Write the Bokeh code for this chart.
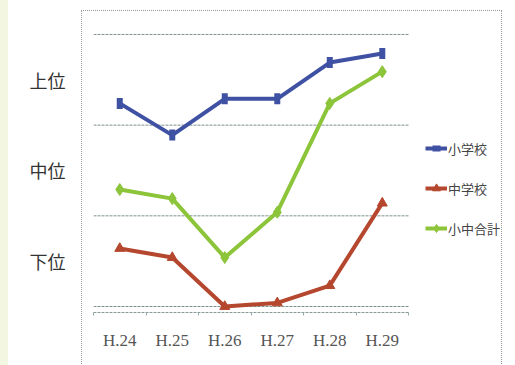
import math
from bokeh.plotting import figure
from bokeh.models import (Range1d, FixedTicker, Legend, LegendItem, InlineStyleSheet)
from bokeh.embed import file_html
from bokeh.resources import INLINE

# ---- data (rank scale: 0 = bottom gridline, 3 = top gridline) ----
years = ["H.24", "H.25", "H.26", "H.27", "H.28", "H.29"]
elementary = [2.24, 1.89, 2.29, 2.29, 2.69, 2.79]   # 小学校
junior = [0.64, 0.54, 0.00, 0.04, 0.23, 1.14]       # 中学校
combined = [1.29, 1.19, 0.54, 1.04, 2.24, 2.59]     # 小中合計
series_names = ["小学校", "中学校", "小中合計"]
rank_labels = ["下位", "中位", "上位"]
rank_positions = [0.5, 1.5, 2.5]
grid_levels = [0, 1, 2, 3]

xs = list(range(len(years)))
x_lo = xs[0] - 0.5
x_hi = xs[-1] + 0.5

p = figure(width=515, height=365, output_backend="svg", toolbar_location=None,
           x_range=Range1d(x_lo, 7.48), y_range=Range1d(-0.066, 3.154),
           min_border_left=93, min_border_right=3, min_border_top=20,
           min_border_bottom=53)
p.outline_line_color = None
p.background_fill_color = "white"
p.border_fill_color = "white"

# grid (only across the category area)
p.xgrid.grid_line_color = None
p.ygrid.grid_line_color = None
p.segment(x0=[x_lo] * len(grid_levels), y0=grid_levels,
          x1=[x_hi] * len(grid_levels), y1=grid_levels,
          line_color="#7f9090", line_width=1, line_dash="3 1")

# x axis
p.xaxis.bounds = (x_lo, x_hi)
p.xaxis.ticker = FixedTicker(ticks=xs, minor_ticks=[i - 0.5 for i in range(len(years) + 1)])
p.xaxis.major_label_overrides = {i: y for i, y in enumerate(years)}
p.xaxis.major_tick_line_color = None
p.xaxis.minor_tick_line_color = "#9aa"
p.xaxis.minor_tick_in = 0
p.xaxis.minor_tick_out = 3
p.xaxis.axis_line_color = "#8a9a9a"
p.xaxis.axis_line_dash = "3 1"
p.xaxis.major_label_standoff = 12
p.xaxis.major_label_text_font = "Liberation Serif"
p.xaxis.major_label_text_font_size = "17px"
p.xaxis.major_label_text_color = "#555555"

# y axis (rank labels)
p.yaxis.ticker = FixedTicker(ticks=rank_positions)
p.yaxis.major_label_overrides = {v: t for v, t in zip(rank_positions, rank_labels)}
p.yaxis.axis_line_color = None
p.yaxis.major_tick_line_color = None
p.yaxis.minor_tick_line_color = None
p.yaxis.major_label_standoff = 22
p.yaxis.major_label_text_font = "Noto Sans CJK JP"
p.yaxis.major_label_text_font_size = "18px"
p.yaxis.major_label_text_color = "#333333"

blue = "#3f51a3"
red = "#b5472e"
green = "#8cc43a"

l1 = p.line(xs, elementary, line_color=blue, line_width=4)
m1 = p.scatter(xs, elementary, marker="dash", size=11, angle=math.pi / 2,
               line_color=blue, line_width=6)
l2 = p.line(xs, junior, line_color=red, line_width=4)
m2 = p.scatter(xs, junior, marker="triangle", size=10, fill_color=red, line_color=red)
l3 = p.line(xs, combined, line_color=green, line_width=4)
m3 = p.scatter(xs, combined, marker="diamond", size=12, fill_color=green, line_color=green)

legend = Legend(items=[
    LegendItem(label=series_names[0], renderers=[l1, m1]),
    LegendItem(label=series_names[1], renderers=[l2, m2]),
    LegendItem(label=series_names[2], renderers=[l3, m3]),
], location=(332, 74))
legend.background_fill_alpha = 0
legend.border_line_color = None
legend.padding = 0
legend.margin = 0
legend.spacing = 20
legend.glyph_height = 20
legend.glyph_width = 22
legend.label_standoff = 1
legend.label_text_font = "Noto Sans CJK JP"
legend.label_text_font_size = "13px"
legend.label_text_color = "#444444"
p.add_layout(legend)

# outer chart box and pale left paper strip (page decoration)
p.stylesheets = [InlineStyleSheet(css="""
:host { position: relative; }
:host::after { content: ""; position: absolute; left: 81px; top: 10px;
  width: 421px; height: 370px; border: 1px dotted #9a9a9a;
  box-sizing: border-box; pointer-events: none; z-index: 2; }
:host::before { content: ""; position: absolute; left: 0px; top: 0px;
  width: 8px; height: 365px; background: #f3f6e0; pointer-events: none;
  z-index: 1; }
""")]

open("out.html", "w").write(file_html(p, INLINE))
